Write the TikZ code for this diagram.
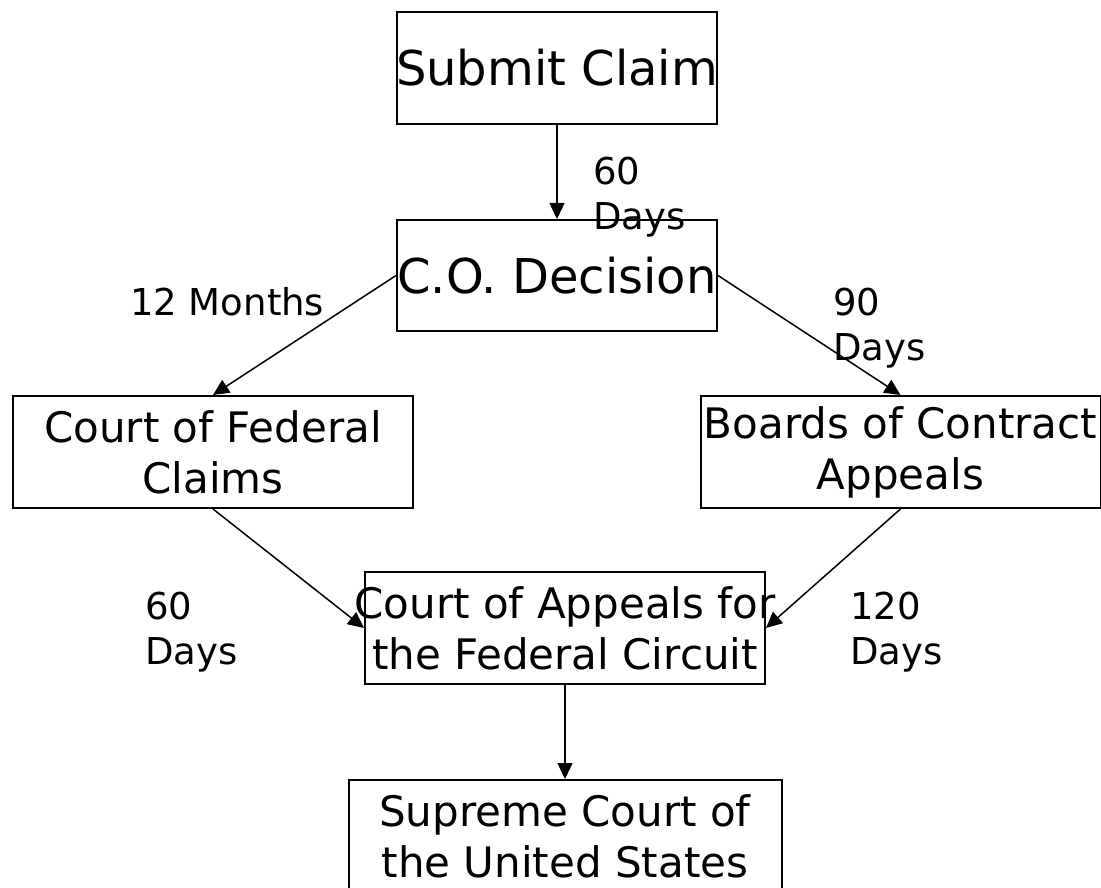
\documentclass[tikz,border=0pt]{standalone}
\usepackage{fontspec}
\setmainfont{DejaVu Sans}
\usetikzlibrary{arrows.meta}
\newcommand\mkline[1]{\makebox[0pt]{#1}}
\begin{document}
\begin{tikzpicture}[x=1pt,y=-1pt,
  box/.style={draw,line width=2pt,inner sep=0pt,minimum width=#1,minimum height=112pt,align=center},
  big/.style={font=\fontsize{48}{58}\selectfont},
  mid/.style={font=\fontsize{42}{51}\selectfont},
  lbl/.style={anchor=base west,inner sep=0pt,font=\fontsize{37}{45}\selectfont},
  conn/.style={line width=1.5pt,-{Triangle[length=16pt,width=15pt]}}]
\useasboundingbox[fill=white] (0,0) rectangle (1101,888);
\node[box=320pt,big] (submit) at (557,68) {\mkline{Submit Claim}};
\node[box=320pt,big,minimum height=111pt] (co) at (557,275.5) {\mkline{C.O. Decision}};
\node[box=400pt,mid] (cfc) at (213,452) {\mkline{Court of Federal}\\\mkline{Claims}};
\node[box=400pt,mid] (bca) at (900.5,452) {\mkline{Boards of Contract}\\\mkline{Appeals}};
\node[box=400pt,mid] (cafc) at (565,628) {\mkline{Court of Appeals for}\\\mkline{the Federal Circuit}};
\node[box=433pt,mid] (sc) at (565,836) {\mkline{Supreme Court of}\\\mkline{the United States}};
\draw[conn] (submit.south) -- (co.north);
\draw[conn] (co.west) -- (cfc.north);
\draw[conn] (co.east) -- (bca.north);
\draw[conn] (cfc.south) -- (cafc.west);
\draw[conn] (bca.south) -- (cafc.east);
\draw[conn] (cafc.south) -- (sc.north);
\node[lbl] (l1) at (593,185) {\begin{tabular}[t]{@{}l@{}}60\\Days\end{tabular}};
\node[lbl] (l2) at (130,315) {12 Months};
\node[lbl] (l3) at (833,315) {\begin{tabular}[t]{@{}l@{}}90\\Days\end{tabular}};
\node[lbl] (l4) at (145,619) {\begin{tabular}[t]{@{}l@{}}60\\Days\end{tabular}};
\node[lbl] (l5) at (850,619) {\begin{tabular}[t]{@{}l@{}}120\\Days\end{tabular}};
\end{tikzpicture}
\end{document}
